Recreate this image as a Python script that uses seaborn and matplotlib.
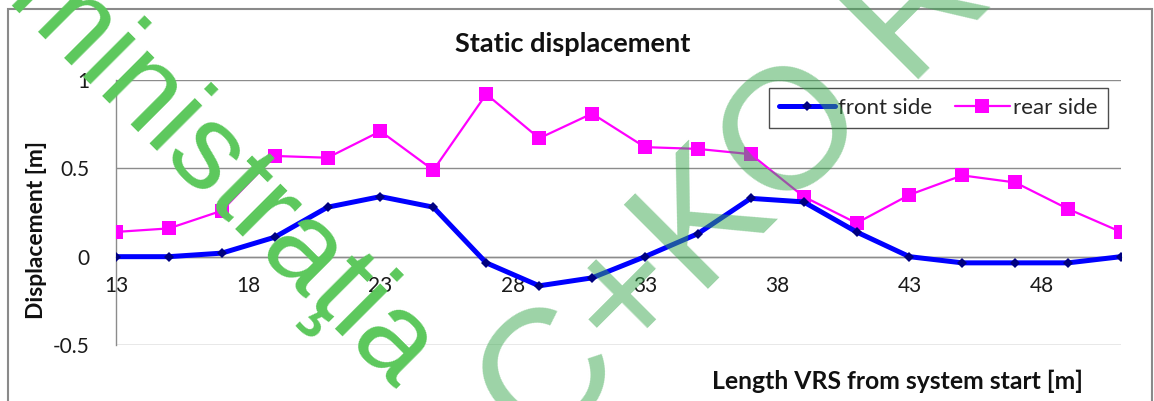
import matplotlib
matplotlib.use("Agg")
import matplotlib.pyplot as plt
from matplotlib.patches import Rectangle
import numpy as np
import pandas as pd
import seaborn as sns

# Measurement stations along the system [m]
length_m = [13, 15, 17, 19, 21, 23, 25, 27, 29, 31, 33, 35, 37, 39, 41, 43, 45, 47, 49, 51]
front_side = [0.0, 0.0, 0.02, 0.11, 0.28, 0.34, 0.28, -0.035, -0.165, -0.12,
              0.0, 0.13, 0.33, 0.31, 0.14, 0.0, -0.035, -0.035, -0.035, 0.0]
rear_side = [0.14, 0.16, 0.26, 0.57, 0.56, 0.71, 0.49, 0.92, 0.67, 0.81,
             0.62, 0.61, 0.58, 0.34, 0.19, 0.35, 0.46, 0.42, 0.27, 0.14]
x_ticks = [13, 18, 23, 28, 33, 38, 43, 48]
y_ticks = [-0.5, 0, 0.5, 1]

df = pd.DataFrame({"length": length_m, "front side": front_side, "rear side": rear_side})

sns.set_theme(style="white")
plt.rcParams["font.family"] = ["Lato", "DejaVu Sans"]

W, H = 1154, 401
fig = plt.figure(figsize=(W / 100, H / 100), dpi=100)
ax = fig.add_axes([116 / W, 1 - 345 / H, (1121 - 116) / W, (345 - 80) / H])

grid_col = "#8c8c8c"

sns.lineplot(data=df, x="length", y="rear side", ax=ax, color="#ff00ff", linewidth=1.6,
             marker="s", markersize=10, markeredgewidth=0, markerfacecolor="#ff00ff",
             label="rear side", zorder=3)
sns.lineplot(data=df, x="length", y="front side", ax=ax, color="#0000ff", linewidth=3.6,
             marker="D", markersize=5, markeredgewidth=0, markerfacecolor="#000080",
             label="front side", zorder=5)

ax.set_xlim(13, 51)
ax.set_ylim(-0.5, 1)
ax.set_xticks(x_ticks)
ax.set_yticks(y_ticks)
ax.set_yticklabels(["-0.5", "0", "0.5", "1"])
ax.set_xticklabels([str(t) for t in x_ticks])

for yv in y_ticks:
    ax.axhline(yv, color=grid_col, linewidth=1.0, zorder=1)

for s in ["top", "right"]:
    ax.spines[s].set_visible(False)
ax.spines["left"].set_color(grid_col)
ax.spines["left"].set_linewidth(1.0)
ax.spines["bottom"].set_position(("data", 0))
ax.spines["bottom"].set_color(grid_col)
ax.spines["bottom"].set_linewidth(1.0)

ax.tick_params(axis="x", direction="out", length=5, width=1, color=grid_col,
               pad=9, labelsize=15, labelcolor="#1a1a1a")
ax.tick_params(axis="y", direction="out", length=5, width=1, color=grid_col,
               pad=14, labelsize=15, labelcolor="#1a1a1a")
ax.set_xlabel("")
ax.set_ylabel("")

fig.text(573 / W, 1 - 44 / H, "Static displacement", ha="center", va="center",
         fontsize=19.5, fontweight="bold", color="#111111")
fig.text(1083 / W, 1 - 381 / H, "Length VRS from system start [m]", ha="right", va="center",
         fontsize=17.8, fontweight="bold", color="#111111")
fig.text(37 / W, 1 - 230 / H, "Displacement [m]", ha="center", va="center", rotation=90,
         fontsize=16.5, fontweight="bold", color="#111111")

handles, labels = ax.get_legend_handles_labels()
order = [labels.index("front side"), labels.index("rear side")]
leg = ax.legend([handles[i] for i in order], [labels[i] for i in order],
                loc="upper right", bbox_to_anchor=(0.987, 0.970), ncol=2,
                fontsize=16, frameon=True, fancybox=False, handlelength=2.5,
                handletextpad=0.15, columnspacing=1.0, borderpad=0.45,
                borderaxespad=0.0)
leg.get_frame().set_edgecolor("#222222")
leg.get_frame().set_linewidth(1.0)
leg.set_zorder(6)

# Chart-area border
fig.patches.append(Rectangle((8 / W, -0.1), (1152 - 8) / W, 1.1 - 9 / H,
                             transform=fig.transFigure, fill=False,
                             edgecolor="#8a8a8a", linewidth=1.5))

# Watermark stamps
fig.text(396 / W, 1 - 390 / H, "Administraţia", rotation=-45, rotation_mode="anchor",
         ha="right", va="baseline", fontsize=87, color="#5cc85c",
         family="Liberation Sans", zorder=4)
fig.text(540 / W, 1 - 458 / H, "C+KO R", rotation=45, rotation_mode="anchor",
         ha="left", va="baseline", fontsize=124, color="#3aa84f", alpha=0.5,
         family="Liberation Sans", zorder=10)

fig.savefig("out.png", dpi=100)
